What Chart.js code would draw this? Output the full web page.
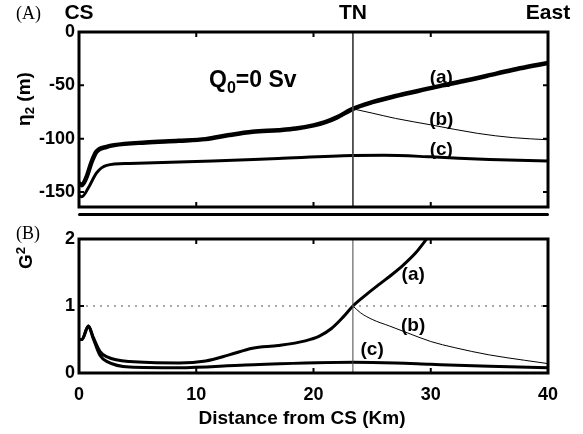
<!DOCTYPE html>
<html>
<head>
<meta charset="utf-8">
<script src="https://cdn.jsdelivr.net/npm/chart.js@4"></script>
<style>
  body { margin: 0; background: #fff; }
  #wrap { position: relative; width: 583px; height: 434px; font-family: "Liberation Sans", Arial, sans-serif; }
  canvas { position: absolute; left: 0; }
  .txt { position: absolute; white-space: nowrap; font-weight: bold; color: #000; }
  .panel { position: absolute; font-family: "Liberation Serif", "Times New Roman", serif; font-size: 18px; }
  .ytitle { position: absolute; font-weight: bold; font-size: 19px; transform: translate(-50%, -50%) rotate(-90deg); white-space: nowrap; }
  sub, sup { font-size: 70%; }
</style>
</head>
<body>
<div id="wrap">
  <canvas id="top" width="583" height="222" style="top:0"></canvas>
  <canvas id="bottom" width="583" height="212" style="top:222px"></canvas>
  <div id="sep" style="position:absolute;left:78px;top:213px;width:471px;height:3px;background:#000;border-radius:2px"></div>
  <div class="panel" style="left:16px;top:3px">(A)</div>
  <div class="panel" style="left:16px;top:223px">(B)</div>
  <div class="ytitle" style="left:25px;top:99px">&eta;<sub>2</sub> (m)</div>
  <div class="ytitle" style="left:25px;top:258px">G<sup>2</sup></div>
  <div class="txt" style="left:209px;top:66px;font-size:23px">Q<sub>0</sub>=0 Sv</div>
  <div class="txt" style="left:302px;top:407px;font-size:19px;transform:translateX(-50%)">Distance from CS (Km)</div>
</div>
<script>
const TN = 23.36;
const sectionNames = ["CS", "TN", "East"];
const sectionAt = [0, TN, 40];

// upper panel: eta2 (m)
const distEtaA = [0, 0.23, 0.65, 1.08, 1.5, 2.36, 3, 5.7, 8.5, 10.8, 12.8, 14.8, 17, 18.5, 20, 21, 22, 23.36, 25.1, 27, 29, 31, 33, 35.6, 37.6, 40];
const etaA = [-141.5, -143.5, -135.7, -121.6, -112, -107.6, -106, -103.5, -102, -100.4, -96.6, -93.5, -92, -90.5, -87.5, -84.5, -80, -72, -65.5, -60, -55, -50, -45.5, -39, -34, -29];
const distEtaB = [23.36, 25, 27, 30, 34, 37, 40];
const etaB = [-72, -76, -81, -87, -95, -99, -101];
const distEtaC = [0, 0.23, 0.8, 1.5, 2.36, 4.3, 11.4, 17, 23.36, 26, 30, 35, 40];
const etaC = [-153, -154.5, -146, -132, -125, -123.2, -121, -118.5, -115.8, -115.6, -117, -119.5, -121];
const etaTicks = [0, -50, -100, -150];

// lower panel: G^2
const distGA = [0, 0.25, 0.8, 1.2, 1.8, 2.4, 4.3, 8.5, 10.8, 12.8, 14.8, 17, 19.3, 20.5, 21.5, 22.5, 23.36, 24.5, 25.66, 26.7, 27.65, 28.7, 29.64, 30.5];
const gA = [0.5, 0.5, 0.7, 0.54, 0.32, 0.24, 0.17, 0.15, 0.18, 0.27, 0.37, 0.41, 0.48, 0.55, 0.66, 0.83, 1.0, 1.17, 1.33, 1.47, 1.61, 1.79, 2.0, 2.2];
const distGB = [23.36, 24, 25, 26.5, 28, 30, 32, 35, 38, 40];
const gB = [1.0, 0.9, 0.8, 0.7, 0.6, 0.47, 0.38, 0.27, 0.19, 0.14];
const distGC = [0, 0.25, 0.8, 1.2, 1.8, 2.4, 4.3, 8.5, 14.2, 23.36, 27, 30, 35, 40];
const gC = [0.5, 0.5, 0.7, 0.52, 0.26, 0.17, 0.09, 0.08, 0.12, 0.16, 0.15, 0.13, 0.1, 0.08];
const gTicks = [0, 1, 2];
const distTicks = [0, 10, 20, 30, 40];

// curve labels at data positions
const etaNotes = [["(a)", 30.9, -43], ["(b)", 30.9, -82.5], ["(c)", 30.9, -110]];
const gNotes = [["(a)", 28.5, 1.46], ["(b)", 28.5, 0.71], ["(c)", 25.0, 0.34]];

const pts = (xs, ys) => xs.map((x, i) => ({ x, y: ys[i] }));
const bold = (size) => ({ family: "'Liberation Sans', Arial, sans-serif", size, weight: "bold" });

function curve(data, width) {
  return {
    data, borderColor: "#000", borderWidth: width, pointRadius: 0,
    cubicInterpolationMode: "monotone", fill: false,
  };
}

// box around the plot with inward tick marks
const framePlugin = {
  id: "frame",
  afterDatasetsDraw(chart) {
    const { ctx, chartArea: a, scales } = chart;
    ctx.save();
    ctx.strokeStyle = "#000";
    ctx.lineWidth = 2;
    const len = 5;
    for (const t of scales.x.ticks) {
      if (t.value <= scales.x.min || t.value >= scales.x.max) continue;
      const px = scales.x.getPixelForValue(t.value);
      ctx.beginPath();
      ctx.moveTo(px, a.top); ctx.lineTo(px, a.top + len);
      ctx.moveTo(px, a.bottom); ctx.lineTo(px, a.bottom - len);
      ctx.stroke();
    }
    for (const t of scales.y.ticks) {
      if (t.value <= scales.y.min || t.value >= scales.y.max) continue;
      const py = scales.y.getPixelForValue(t.value);
      ctx.beginPath();
      ctx.moveTo(a.left, py); ctx.lineTo(a.left + len, py);
      ctx.moveTo(a.right, py); ctx.lineTo(a.right - len, py);
      ctx.stroke();
    }
    ctx.lineWidth = 3;
    ctx.strokeRect(a.left, a.top, a.right - a.left, a.bottom - a.top);
    ctx.restore();
  },
};

const notesPlugin = {
  id: "notes",
  afterDatasetsDraw(chart, args, opts) {
    const { ctx, scales } = chart;
    ctx.save();
    ctx.font = "bold 19px 'Liberation Sans', Arial, sans-serif";
    ctx.fillStyle = "#000";
    ctx.textAlign = "center";
    ctx.textBaseline = "middle";
    for (const [txt, x, y] of opts.items) {
      ctx.fillText(txt, scales.x.getPixelForValue(x), scales.y.getPixelForValue(y));
    }
    ctx.restore();
  },
};

new Chart(document.getElementById("top"), {
  type: "line",
  data: {
    datasets: [
      { ...curve(pts([TN, TN], [0, -164]), 1), borderColor: "#444", cubicInterpolationMode: "default" },
      curve(pts(distEtaC, etaC), 3),
      curve(pts(distEtaB, etaB), 1),
      curve(pts(distEtaA, etaA), 4.5),
    ],
  },
  options: {
    responsive: false,
    animation: false,
    layout: { padding: { left: 0, right: 35, top: 0, bottom: 0 } },
    plugins: { legend: { display: false }, tooltip: { enabled: false }, notes: { items: etaNotes } },
    scales: {
      x: {
        type: "linear", min: 0, max: 40,
        ticks: { display: false, stepSize: 10 },
        grid: { display: false, drawTicks: false },
        border: { display: false },
        afterFit: (s) => { s.height = 15; },
      },
      xTop: {
        type: "linear", position: "top", min: 0, max: 40,
        afterBuildTicks: (s) => { s.ticks = sectionAt.map((v) => ({ value: v })); },
        ticks: {
          autoSkip: false, maxRotation: 0, padding: 6, color: "#000", font: bold(21),
          callback: (v, i) => sectionNames[i],
        },
        grid: { display: false, drawTicks: false },
        border: { display: false },
        afterFit: (s) => { s.height = 32; },
      },
      y: {
        min: -164, max: 0,
        afterBuildTicks: (s) => { s.ticks = etaTicks.map((v) => ({ value: v })); },
        ticks: { color: "#000", font: bold(18), padding: 4 },
        grid: { display: false, drawTicks: false },
        border: { display: false },
        afterFit: (s) => { s.width = 79; },
      },
    },
  },
  plugins: [framePlugin, notesPlugin],
});

new Chart(document.getElementById("bottom"), {
  type: "line",
  data: {
    datasets: [
      { ...curve(pts([0, 40], [1, 1]), 1), borderColor: "#555", borderDash: [2, 5], cubicInterpolationMode: "default" },
      { ...curve(pts([TN, TN], [0, 2]), 1), borderColor: "#444", cubicInterpolationMode: "default" },
      curve(pts(distGC, gC), 3),
      curve(pts(distGB, gB), 1),
      curve(pts(distGA, gA), 3),
    ],
  },
  options: {
    responsive: false,
    animation: false,
    layout: { padding: { left: 0, right: 35, top: 17, bottom: 0 } },
    plugins: { legend: { display: false }, tooltip: { enabled: false }, notes: { items: gNotes } },
    scales: {
      x: {
        type: "linear", min: 0, max: 40,
        afterBuildTicks: (s) => { s.ticks = distTicks.map((v) => ({ value: v })); },
        ticks: { color: "#000", font: bold(18), padding: 11, maxRotation: 0 },
        grid: { display: false, drawTicks: false },
        border: { display: false },
        afterFit: (s) => { s.height = 61; },
      },
      y: {
        min: 0, max: 2,
        afterBuildTicks: (s) => { s.ticks = gTicks.map((v) => ({ value: v })); },
        ticks: { color: "#000", font: bold(18), padding: 4 },
        grid: { display: false, drawTicks: false },
        border: { display: false },
        afterFit: (s) => { s.width = 79; },
      },
    },
  },
  plugins: [framePlugin, notesPlugin],
});
</script>
</body>
</html>
